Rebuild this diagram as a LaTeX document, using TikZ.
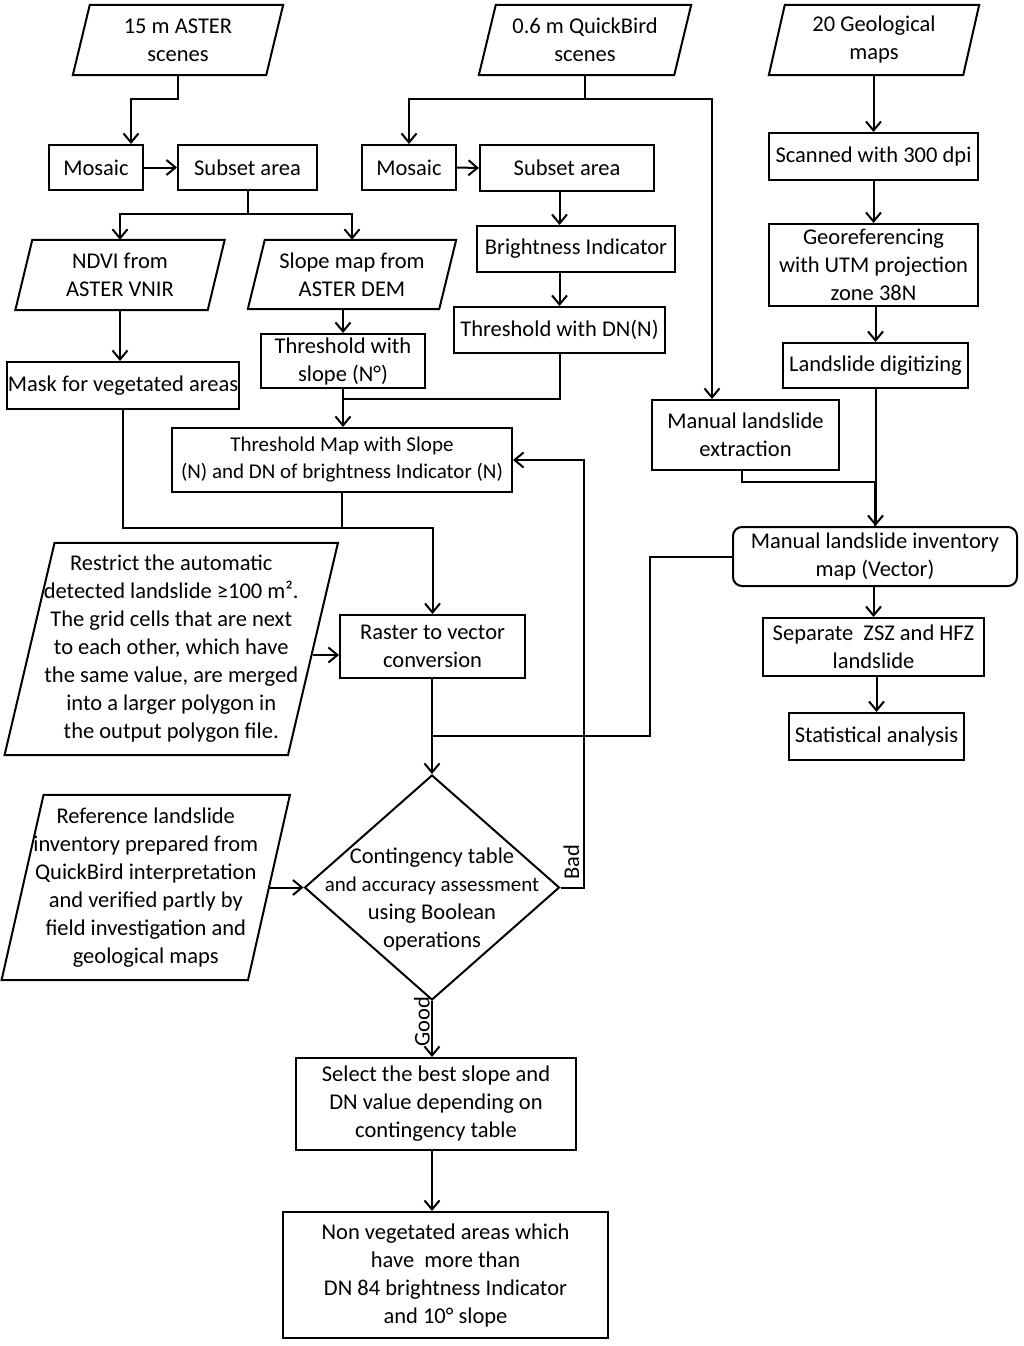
\documentclass[tikz,border=0pt]{standalone}
\usepackage{fontspec}
\setmainfont{Carlito}
\usetikzlibrary{shapes.geometric,arrows.meta,calc}
\newcommand\fnt{\fontsize{22.5}{28}\selectfont}
\newcommand\fnts{\fontsize{21}{27}\selectfont}
\begin{document}
\begin{tikzpicture}[x=1pt,y=-1pt,
  box/.style={draw, line width=2pt, inner sep=0pt, align=center, font=\fnt},
  txt/.style={inner sep=0pt, align=center, font=\fnt},
  ln/.style={line width=2pt, line join=miter},
  arr/.style={line width=2pt, -{Straight Barb[length=9pt,width=15pt]}}]
\useasboundingbox (0,0) rectangle (1024,1346);
\fill[white] (0,0) rectangle (1024,1346);

% ---------- parallelograms (text nodes + outlines)
\node[txt, minimum width=193, minimum height=70] (aster) at (178,40) {15 m ASTER\\scenes};
\draw[ln] ([xshift=8.5]aster.north west) -- ([xshift=8.5]aster.north east) -- ([xshift=-8.5]aster.south east) -- ([xshift=-8.5]aster.south west) -- cycle;

\node[txt, minimum width=195, minimum height=70] (qb) at (585,40) {0.6 m QuickBird\\scenes};
\draw[ln] ([xshift=8.5]qb.north west) -- ([xshift=8.5]qb.north east) -- ([xshift=-8.5]qb.south east) -- ([xshift=-8.5]qb.south west) -- cycle;

\node[txt, minimum width=194, minimum height=70] (geo) at (874,40) {20 Geological\\maps};
\draw[ln] ([xshift=8]geo.north west) -- ([xshift=8]geo.north east) -- ([xshift=-8]geo.south east) -- ([xshift=-8]geo.south west) -- cycle;

\node[txt, minimum width=192, minimum height=70] (ndvi) at (120,275) {NDVI from\\ASTER VNIR};
\draw[ln] ([xshift=8.5]ndvi.north west) -- ([xshift=8.5]ndvi.north east) -- ([xshift=-8.5]ndvi.south east) -- ([xshift=-8.5]ndvi.south west) -- cycle;

\node[txt, minimum width=191, minimum height=69] (slope) at (352,274.5) {Slope map from\\ASTER DEM};
\draw[ln] ([xshift=8.5]slope.north west) -- ([xshift=8.5]slope.north east) -- ([xshift=-8.5]slope.south east) -- ([xshift=-8.5]slope.south west) -- cycle;

\node[txt, minimum width=283, minimum height=212] (restrict) at (171.25,649) {Restrict the automatic\\detected landslide ≥100 m².\\The grid cells that are next\\to each other, which have\\the same value, are merged\\into a larger polygon in\\the output polygon file.};
\draw[ln] ([xshift=25]restrict.north west) -- ([xshift=25]restrict.north east) -- ([xshift=-25]restrict.south east) -- ([xshift=-25]restrict.south west) -- cycle;

\node[txt, minimum width=246, minimum height=185] (ref) at (145.75,887.5) {Reference landslide\\inventory prepared from\\QuickBird interpretation\\and verified partly by\\field investigation and\\geological maps};
\draw[ln] ([xshift=21]ref.north west) -- ([xshift=21]ref.north east) -- ([xshift=-21]ref.south east) -- ([xshift=-21]ref.south west) -- cycle;

% ---------- boxes
\node[box, minimum width=94, minimum height=45] (mos1) at (96,167.5) {Mosaic};
\node[box, minimum width=139, minimum height=45] (sub1) at (247.5,167.5) {Subset area};
\node[box, minimum width=94, minimum height=45] (mos2) at (409,167.5) {Mosaic};
\node[box, minimum width=174, minimum height=46] (sub2) at (567,168) {Subset area};
\node[box, minimum width=232, minimum height=47] (mask) at (123,385.5) {Mask for vegetated areas};
\node[box, minimum width=164, minimum height=54] (ths) at (343,361) {Threshold with\\slope (N°)};
\node[box, minimum width=198, minimum height=46] (bright) at (576,249) {Brightness Indicator};
\node[box, minimum width=211, minimum height=46] (thdn) at (559.5,330) {Threshold with DN(N)};
\node[box, minimum width=340, minimum height=64, font=\fnts] (thmap) at (342,460) {Threshold Map with Slope\\(N) and DN of brightness Indicator (N)};
\node[box, minimum width=185, minimum height=63] (raster) at (432.5,646.5) {Raster to vector\\conversion};
\node[box, minimum width=280, minimum height=92] (select) at (436,1104) {Select the best slope and\\DN value depending on\\contingency table};
\node[box, minimum width=325, minimum height=126] (non) at (445.5,1275) {Non vegetated areas which\\have\ \ more than\\DN 84 brightness Indicator\\and 10° slope};
\node[box, minimum width=187, minimum height=70] (manex) at (745.5,435) {Manual landslide\\extraction};
\node[box, minimum width=209, minimum height=47] (scan) at (873.5,156.5) {Scanned with 300 dpi};
\node[box, minimum width=209, minimum height=82] (georef) at (873.5,265) {Georeferencing\\with UTM projection\\zone 38N};
\node[box, minimum width=185, minimum height=45] (digit) at (875.5,365.5) {Landslide digitizing};
\node[box, minimum width=284, minimum height=59, rounded corners=9pt] (inv) at (875,556.5) {Manual landslide inventory\\map (Vector)};
\node[box, minimum width=221, minimum height=58] (sep) at (873.5,647) {Separate\ \ ZSZ and HFZ\\landslide};
\node[box, minimum width=175, minimum height=47] (stat) at (876.5,736.5) {Statistical analysis};

% ---------- decision
\node[draw, diamond, line width=2pt, inner sep=0pt, minimum width=255, minimum height=225] (dia) at (432,887.5) {};
\node[txt] (diatxt) at ($(dia.center)+(0,12)$) {Contingency table\\{\fnts and accuracy assessment}\\using Boolean\\operations};

% ---------- connectors: ASTER branch
\draw[arr] (aster.south) -- ++(0,24) -| ([xshift=35]mos1.north);
\draw[arr] (mos1.east) -- (sub1.west);
\draw[ln] (sub1.south) -- ++(0,23) coordinate (s1);
\draw[arr] (s1) -| (ndvi.north);
\draw[arr] (s1) -| (slope.north);
\draw[arr] (ndvi.south) -- (ndvi.south |- mask.north);
\draw[arr] (ths.north |- slope.south) -- (ths.north);
\draw[arr] (ths.south) -- (ths.south |- thmap.north);
\draw[ln] (thdn.south) -- ++(0,45) -| (ths.south);
\coordinate (jm) at ($(thmap.south)+(0,35)$);
\draw[ln] (thmap.south) -- (jm);
\draw[arr] (mask.south) |- (jm) -| (raster.north);
\coordinate (ra) at ($(raster.west)+(0,8.5)$);
\draw[arr] (restrict.east |- ra) -- (ra);
\draw[arr] (raster.south -| dia.north) -- (dia.north);
\coordinate (jr) at ($(raster.south)!0.6!(dia.north)$);
\draw[ln] (inv.west) -- ++(-82,0) |- (jr);
\draw[arr] (ref.east) -- (dia.west);
\draw[arr] (dia.east) -- ++(23,0) |- (thmap.east);
\node[txt, rotate=90, anchor=center] (bad) at ($(dia.east)+(11,-25)$) {Bad};
\draw[arr] (dia.south) -- (dia.south |- select.north);
\node[txt, rotate=90, anchor=center] (good) at ($(dia.south)+(-10,21)$) {Good};
\draw[arr] (dia.south |- select.south) -- (dia.south |- non.north);

% ---------- QuickBird branch
\draw[ln] (qb.south) -- ++(0,24) coordinate (q1);
\draw[arr] (q1) -| (mos2.north);
\draw[arr] (q1) -| ([xshift=-33.5]manex.north);
\draw[arr] (mos2.east) -- (sub2.west);
\draw[arr] (thdn.north |- sub2.south) -- (thdn.north |- bright.north);
\draw[arr] (thdn.north |- bright.south) -- (thdn.north);
\draw[ln] ([xshift=-4]manex.south) -- ++(0,11) -| (inv.north);

% ---------- Geological branch
\draw[arr] (scan.north |- geo.south) -- (scan.north);
\draw[arr] (scan.south) -- (georef.north);
\draw[arr] (georef.south -| digit.north) -- (digit.north);
\draw[arr] (digit.south) -- (digit.south |- inv.north);
\draw[arr] (sep.north |- inv.south) -- (sep.north);
\draw[arr] (sep.south -| stat.north) -- (stat.north);
\end{tikzpicture}
\end{document}
